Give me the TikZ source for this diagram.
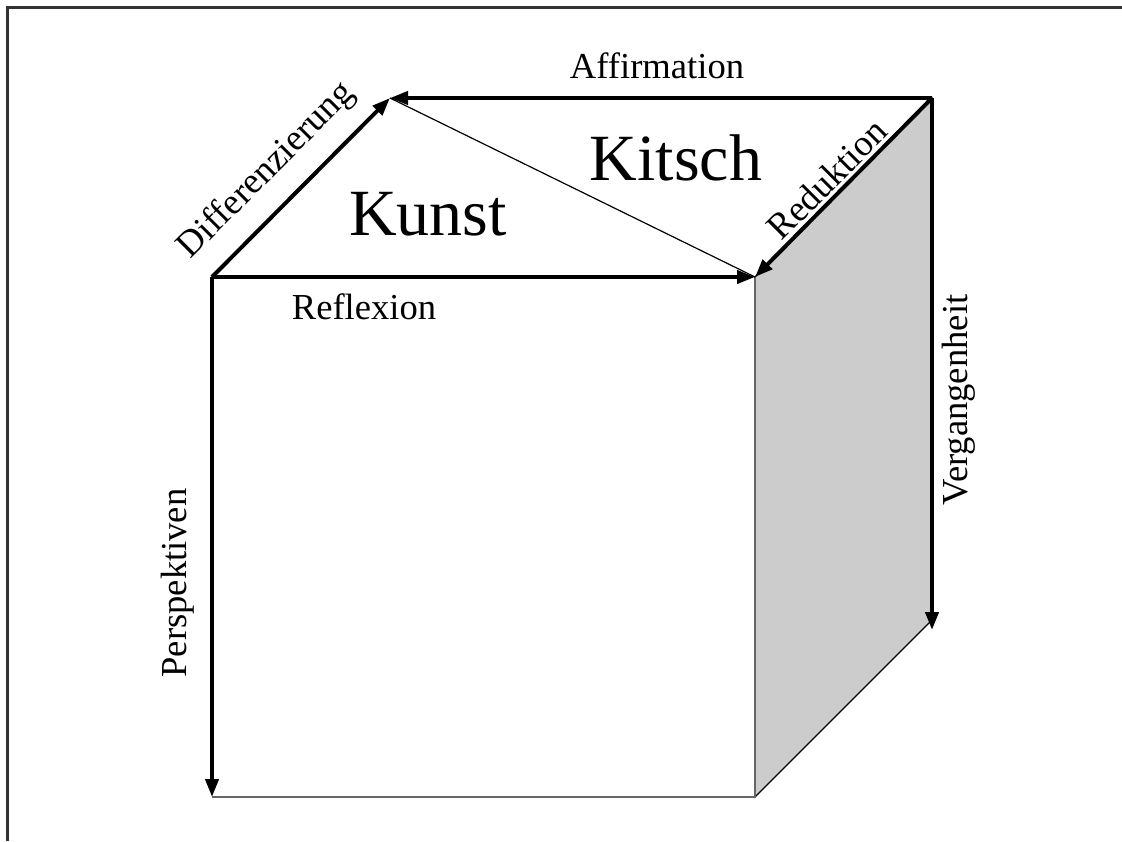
\documentclass[tikz,border=0pt]{standalone}
\usepackage{fontspec}
\setmainfont{Liberation Serif}
\usetikzlibrary{arrows.meta,positioning}
\definecolor{faceGray}{HTML}{CCCCCC}
\definecolor{edgeGray}{HTML}{666666}
\definecolor{frameGray}{HTML}{333333}

\begin{document}
\begin{tikzpicture}[x=0.5pt, y=-0.5pt, >={Triangle[length=9pt,width=6.5pt]},
    arr/.style={->, line width=2pt, black},
    lbl/.style={font=\fontsize{18.3}{22}\selectfont, inner sep=0pt},
    big/.style={font=\fontsize{33}{38}\selectfont, inner sep=0pt}]
    \useasboundingbox (0,0) rectangle (1122,841);

    % frame
    \draw[frameGray, line width=1.5pt] (7,841) -- (7,7) -- (1122,7);

    % cube corners
    \coordinate (fl) at (212,277);
    \coordinate (fr) at (755,277);
    \coordinate (bl) at (390,98);
    \coordinate (br) at (932,98);
    \coordinate (fbl) at (212,797);
    \coordinate (fbr) at (755,797);
    \coordinate (bbr) at (932,620);
    \coordinate (vend) at (932,630);

    % faces
    \filldraw[fill=faceGray, draw=black, line width=0.6pt] (fr) -- (br) -- (bbr) -- (fbr) -- cycle;
    \draw[edgeGray, line width=1pt] (fr) -- (fbr) -- (fbl);

    % thin diagonal on top
    \draw[line width=0.6pt] (bl) -- (fr);

    % arrows
    \draw[arr] (br) -- (bl);
    \draw[arr] (fl) -- (bl);
    \draw[arr] (fl) -- (fr);
    \draw[arr] (br) -- (fr);
    \draw[arr] (fl) -- (fbl);
    \draw[arr] (br) -- (vend);

    % labels
    \node[lbl] (affirm) at (657,66) {Affirmation};
    \node[lbl, rotate=45] (diff) at (267,171) {Differenzierung};
    \node[lbl] (reflex) at (364,307) {Reflexion};
    \node[lbl, rotate=45] (redukt) at (827,179) {Reduktion};
    \node[lbl, rotate=90] (persp) at (178,583) {Perspektiven};
    \node[lbl, rotate=90] (vergang) at (959,400) {Vergangenheit};
    \node[big] (kunst) at (428,214) {Kunst};
    \node[big] (kitsch) at (676,158) {Kitsch};
\end{tikzpicture}
\end{document}
